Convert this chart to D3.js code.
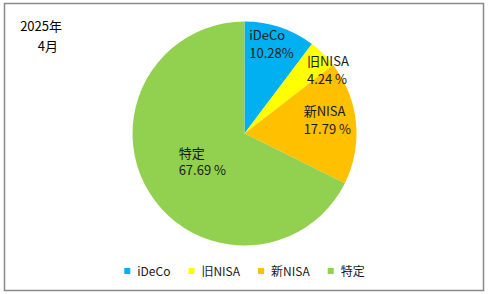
<!DOCTYPE html>
<html lang="ja">
<head>
  <meta charset="UTF-8">
  <title>2025年4月 内訳</title>
  <style>
    body { margin: 0; background: #fff; }
    svg { display: block; font-family: "Noto Sans CJK JP", "Noto Sans", sans-serif; }
  </style>
  <script src="https://d3js.org/d3.v7.min.js"></script>
</head>
<body>
  <svg width="488" height="294"></svg>

  <script>
    // dati
    var categories = ["iDeCo", "旧NISA", "新NISA", "特定"];
    var values = [10.28, 4.24, 17.79, 67.69];
    var valueLabels = ["10.28%", "4.24 %", "17.79 %", "67.69 %"];
    var titleLines = ["2025年", "4月"];

    var colors = ["#00B0F0", "#FFFF00", "#FFC000", "#92D050"];

    var svg = d3.select("svg");
    var cx = 244.5, cy = 133.5, r = 112;

    // cornice
    svg.append("rect")
      .attr("x", 4.5).attr("y", 3.5)
      .attr("width", 479).attr("height", 287)
      .attr("fill", "#fff").attr("stroke", "#898989").attr("stroke-width", 1.5);

    // titolo in alto a sinistra
    svg.append("text").attr("x", 62).attr("y", 31).attr("text-anchor", "end")
      .attr("font-size", 13).attr("fill", "#000").text(titleLines[0]);
    svg.append("text").attr("x", 58).attr("y", 51).attr("text-anchor", "end")
      .attr("font-size", 13).attr("fill", "#000").text(titleLines[1]);

    var pie = d3.pie().sort(null).value(d => d)(values);
    var arc = d3.arc().innerRadius(0).outerRadius(r);

    var g = svg.append("g").attr("transform", "translate(" + cx + "," + cy + ")");

    g.selectAll("path")
      .data(pie)
      .enter().append("path")
      .attr("d", arc)
      .attr("fill", (d, i) => colors[i]);

    // posizione delle etichette (angolo in gradi, frazione del raggio)
    var labelPos = [[16.7, 0.84], [52.4, 0.94], [80.4, 0.75], [236.8, 0.45]];

    pie.forEach(function(d, i) {
      var lg = g.append("g");
      lg.append("text").attr("x", 0).attr("y", 0)
        .attr("font-size", 13).attr("fill", "#1a1a1a").text(categories[i]);
      lg.append("text").attr("x", 0).attr("y", 17.5)
        .attr("font-size", 13).attr("fill", "#1a1a1a").text(valueLabels[i]);
      var a = labelPos[i][0] * Math.PI / 180, f = labelPos[i][1] * r;
      var tx = Math.sin(a) * f, ty = -Math.cos(a) * f;
      var bb = lg.node().getBBox();
      lg.attr("transform", "translate(" + (tx - bb.x - bb.width / 2) + "," + (ty - bb.y - bb.height / 2) + ")");
    });

    // legenda: voci affiancate in base alla larghezza del testo
    var leg = svg.selectAll(".leg")
      .data(categories)
      .enter().append("g")
      .attr("class", "leg");

    leg.append("rect").attr("width", 6).attr("height", 6)
      .attr("fill", (d, i) => colors[i]);
    leg.append("text").attr("x", 13).attr("y", 7.5)
      .attr("font-size", 12).attr("fill", "#1a1a1a").text(d => d);

    var lx = 0, offs = [];
    leg.each(function() {
      offs.push(lx);
      lx += 13 + this.querySelector("text").getComputedTextLength() + 18;
    });
    var totalW = lx - 18;
    var startX = cx - totalW / 2;
    leg.attr("transform", (d, i) => "translate(" + (startX + offs[i]) + ",268)");
  </script>
</body>
</html>
